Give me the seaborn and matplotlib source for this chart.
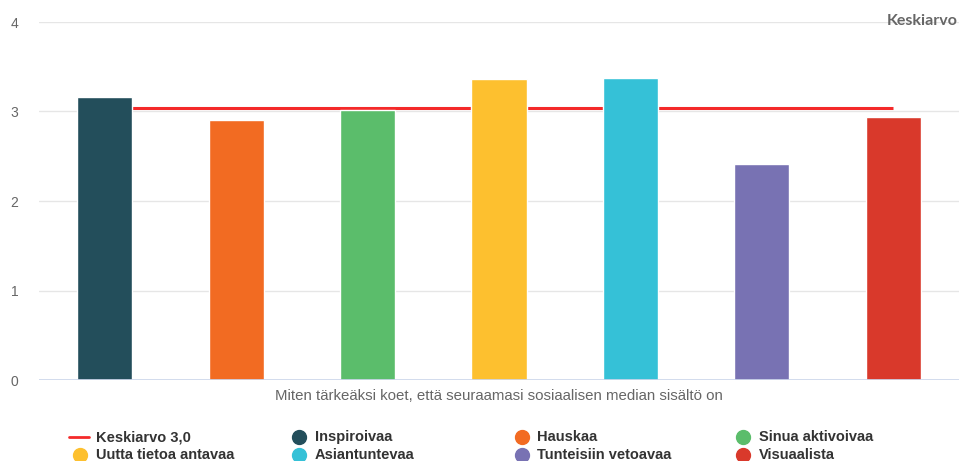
import matplotlib
matplotlib.use("Agg")
import matplotlib.pyplot as plt
from matplotlib.lines import Line2D
import seaborn as sns
import pandas as pd

categories = ["Inspiroivaa", "Hauskaa", "Sinua aktivoivaa", "Uutta tietoa antavaa",
              "Asiantuntevaa", "Tunteisiin vetoavaa", "Visuaalista"]
values = [3.16, 2.90, 3.02, 3.36, 3.37, 2.41, 2.94]
colors = ["#234e5b", "#f26b22", "#5bbd6b", "#fdc02f", "#35c1d7", "#7872b3", "#d9392b"]
mean_value = 3.04
mean_label = "Keskiarvo " + f"{mean_value:.1f}".replace(".", ",")
y_ticks = [0, 1, 2, 3, 4]
x_title = "Miten tärkeäksi koet, että seuraamasi sosiaalisen median sisältö on"

sns.set_theme(style="white")
plt.rcParams["font.family"] = ["Liberation Sans", "DejaVu Sans"]

W, H = 960, 461
fig = plt.figure(figsize=(W / 100, H / 100), dpi=100)
ax = fig.add_axes([39 / W, 1 - 380 / H, 920 / W, (380 - 22) / H])

df = pd.DataFrame({"cat": categories, "val": values})
sns.barplot(data=df, x="cat", y="val", hue="cat", palette=colors, legend=False,
            saturation=1, width=0.42, edgecolor="white", linewidth=1, ax=ax, zorder=3)

# average line runs from the first to the last category, behind the bars
ax.hlines(mean_value, 0, len(categories) - 1, color="#f42a2a", linewidth=2.2, zorder=2)

ax.set_xlim(-0.5, len(categories) - 0.5)
ax.set_ylim(0, 4)
ax.set_yticks(y_ticks)
ax.set_yticklabels([str(t) for t in y_ticks], color="#666666", fontsize=10)
ax.tick_params(axis="y", length=0, pad=15)
ax.set_xticks([])
ax.set_xlabel("")
ax.set_ylabel("")
for s in ax.spines.values():
    s.set_visible(False)
ax.grid(axis="y", color="#e6e6e6", linewidth=1, zorder=0)
ax.set_axisbelow(True)
ax.axhline(0, color="#ccd6eb", linewidth=1.2, zorder=4)

fig.text(499 / W, 1 - 396 / H, x_title, ha="center", va="center",
         color="#666666", fontsize=10.8, stretch="condensed")
fig.text(958 / W, 1 - 21 / H, "Keskiarvo", ha="right", va="center",
         color="#666666", fontsize=11.5, fontweight="bold", family=["Lato", "DejaVu Sans"])

# legend laid out in four evenly spaced columns
text_x = [96, 315, 537, 759]
dot_x = [80, 299, 522, 743]
row_y = [437, 455]
entries = [(mean_label, None)] + list(zip(categories, colors))
for i, (label, col) in enumerate(entries):
    r, c = divmod(i, 4)
    y0 = 1 - row_y[r] / H
    if col is None:
        fig.add_artist(Line2D([69 / W, 89 / W], [y0, y0],
                              color="#f42a2a", linewidth=2, transform=fig.transFigure))
    else:
        fig.add_artist(Line2D([dot_x[c] / W], [y0], marker="o", markersize=10,
                              color=col, linestyle="none", transform=fig.transFigure))
    fig.text(text_x[c] / W, y0, label, ha="left", va="center", color="#333333",
             fontsize=10.5, fontweight="bold")

fig.savefig("out.png", dpi=100, facecolor="white")
